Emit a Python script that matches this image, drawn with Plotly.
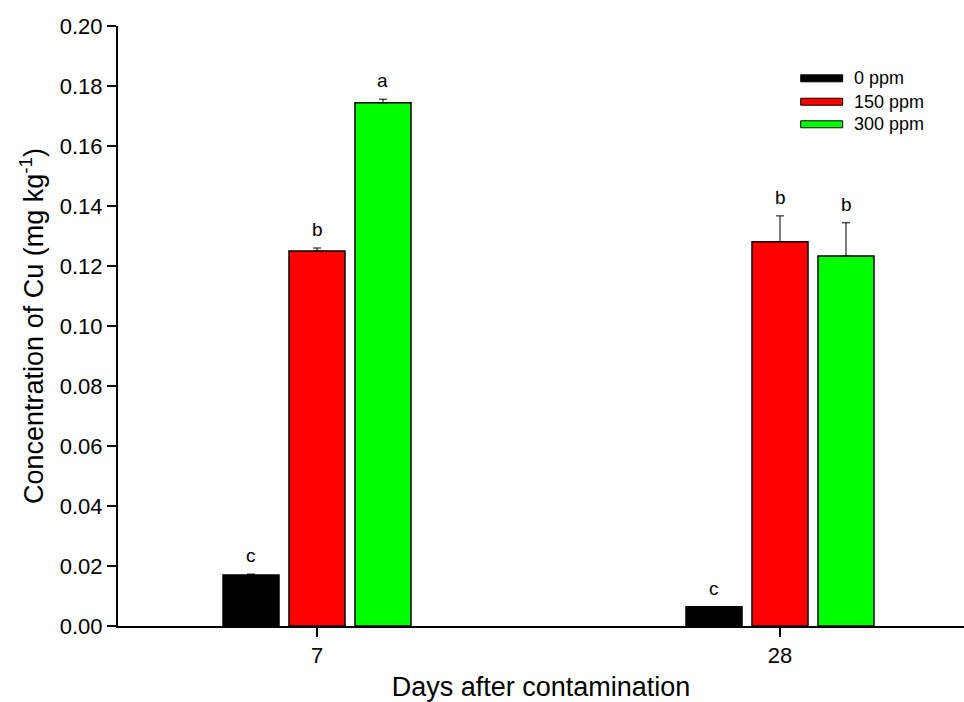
import plotly.graph_objects as go

days = ["7", "28"]
series = ["0 ppm", "150 ppm", "300 ppm"]
colors = ["#000000", "#ff0000", "#00ff00"]
values = {
    "0 ppm": [0.0170, 0.0064],
    "150 ppm": [0.1250, 0.1281],
    "300 ppm": [0.1744, 0.1233],
}
errors = {
    "0 ppm": [0.0003, 0.0001],
    "150 ppm": [0.0010, 0.0086],
    "300 ppm": [0.0012, 0.0111],
}
letters = {
    "0 ppm": ["c", "c"],
    "150 ppm": ["b", "b"],
    "300 ppm": ["a", "b"],
}

FONT = "Liberation Sans, Arial, sans-serif"
xpos = list(range(len(days)))
bargap = 0.5724
groupgap = 0.1515
slot = (1 - bargap) / len(series)

fig = go.Figure()
for i, s in enumerate(series):
    fig.add_trace(go.Bar(
        x=xpos, y=values[s], name=s,
        marker=dict(color=colors[i], line=dict(color="black", width=1.5)),
        error_y=dict(type="data", array=errors[s], arrayminus=[0] * len(days),
                     symmetric=False, color="black", thickness=1, width=4),
        showlegend=False,
    ))
    for j, x in enumerate(xpos):
        fig.add_annotation(
            x=x + (i - 1) * slot, y=values[s][j] + errors[s][j],
            text=letters[s][j], showarrow=False, yanchor="bottom", yshift=6,
            font=dict(family=FONT, size=19, color="black"),
        )

# manual legend (wide flat swatches)
leg_x0, leg_x1 = 0.807, 0.8566
leg_y = [0.9128, 0.8738, 0.8362]
for i, s in enumerate(series):
    fig.add_shape(type="rect", xref="paper", yref="paper",
                  x0=leg_x0, x1=leg_x1, y0=leg_y[i] - 0.0058, y1=leg_y[i] + 0.0058,
                  fillcolor=colors[i], line=dict(color="black", width=1))
    fig.add_annotation(xref="paper", yref="paper", x=0.8673, y=leg_y[i],
                       text=s, showarrow=False, xanchor="left", yanchor="middle",
                       font=dict(family=FONT, size=18, color="black"))

fig.update_layout(
    width=964, height=702,
    margin=dict(l=118, r=0, t=26, b=76),
    paper_bgcolor="white", plot_bgcolor="white",
    barmode="group", bargap=bargap, bargroupgap=groupgap,
    font=dict(family=FONT, color="black"),
    xaxis=dict(
        range=[-0.4298, 1.3974], tickmode="array", tickvals=xpos, ticktext=days,
        showline=True, linecolor="black", linewidth=2, ticks="outside",
        ticklen=9, tickwidth=1.5, tickcolor="black", showgrid=False, zeroline=False,
        tickfont=dict(size=22),
        title=dict(text="Days after contamination", font=dict(size=27), standoff=10),
    ),
    yaxis=dict(
        range=[0, 0.2], dtick=0.02, tickformat=".2f",
        showline=True, linecolor="black", linewidth=2, ticks="outside",
        ticklen=9, tickwidth=1.5, tickcolor="black", showgrid=False, zeroline=False,
        tickfont=dict(size=22),
        title=dict(text="Concentration of Cu (mg kg<sup>-1</sup>)", font=dict(size=27), standoff=8),
    ),
)

fig.write_html("out.html")
